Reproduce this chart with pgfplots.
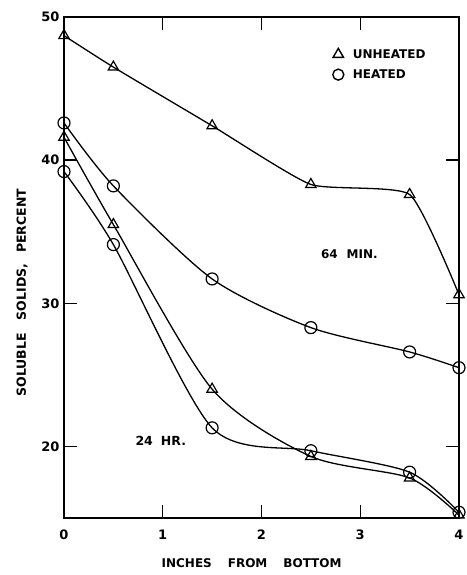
\documentclass[border=0pt]{standalone}
\usepackage{pgfplots}
\pgfplotsset{compat=1.18}
\usepackage{fontspec}
\setmainfont{DejaVu Sans}
\begin{document}
\begin{tikzpicture}
\begin{axis}[
  scale only axis,
  width=395pt, height=501pt,
  xmin=0, xmax=4, ymin=15, ymax=50,
  xtick={0,1,2,3,4}, ytick={20,30,40,50},
  tick align=inside,
  tick pos=both,
  major tick length=13pt,
  every tick/.style={line width=1.4pt, black},
  axis line style={line width=1.6pt},
  /pgf/number format/assume math mode=true,
  tick label style={font=\fontsize{13}{15}\selectfont\bfseries},
  xticklabel style={anchor=center, yshift=-17pt},
  yticklabel style={anchor=east, xshift=-1pt},
  xlabel={\fontsize{12}{14}\selectfont\bfseries INCHES\hspace{16pt}FROM\hspace{16pt}BOTTOM},
  ylabel={\fontsize{12.5}{14}\selectfont\bfseries SOLUBLE\hspace{13pt}SOLIDS,\hspace{11pt}PERCENT},
  xlabel style={at={(axis description cs:0.475,0)}, anchor=center, yshift=-45pt},
  ylabel style={at={(axis description cs:0,0.45)}, anchor=center, yshift=42pt},
  legend style={draw=none, fill=none, at={(axis cs:2.72,47.9)}, anchor=north west,
    font=\fontsize{12}{14}\selectfont\bfseries, row sep=6pt, inner sep=0pt,
    /tikz/every odd column/.append style={column sep=7pt}},
  legend cell align=left,
  clip=false,
]
\addlegendimage{only marks, mark=triangle, mark size=6pt, line width=1.4pt}
\addlegendentry{UNHEATED}
\addlegendimage{only marks, mark=o, mark size=5.5pt, line width=1.4pt}
\addlegendentry{HEATED}
% Unheated, 64 min
\addplot[forget plot, black, line width=1.3pt, smooth, tension=0.3, mark=triangle, mark size=6pt,
  mark options={fill=white, solid, line width=1.2pt}]
  coordinates {(0,48.7) (0.5,46.5) (1.5,42.4) (2.5,38.3) (3.5,37.6) (4,30.6)};
% Heated, 64 min
\addplot[forget plot, black, line width=1.3pt, smooth, tension=0.45, mark=o, mark size=6pt,
  mark options={fill=white, solid, line width=1.2pt}]
  coordinates {(0,42.6) (0.5,38.2) (1.5,31.7) (2.5,28.3) (3.5,26.6) (4,25.5)};
% Unheated, 24 hr
\addplot[forget plot, black, line width=1.3pt, smooth, tension=0.45, mark=triangle, mark size=6pt,
  mark options={fill=white, solid, line width=1.2pt}]
  coordinates {(0,41.6) (0.5,35.5) (1.5,24.0) (2.5,19.3) (3.5,17.8) (4,15.2)};
% Heated, 24 hr
\addplot[forget plot, black, line width=1.3pt, smooth, tension=0.45, mark=o, mark size=6pt,
  mark options={fill=white, solid, line width=1.2pt}]
  coordinates {(0,39.2) (0.5,34.1) (1.5,21.3) (2.5,19.7) (3.5,18.2) (4,15.4)};
\node[font=\fontsize{12}{14}\selectfont\bfseries] at (axis cs:2.89,33.4) {64\hspace{9pt}MIN.};
\node[font=\fontsize{12.5}{14}\selectfont\bfseries] at (axis cs:0.98,20.4) {24\hspace{8pt}HR.};
\end{axis}
\path ([shift={(-64pt,-57pt)}]current axis.south west) rectangle ([shift={(2pt,17pt)}]current axis.north east);
\end{tikzpicture}
\end{document}
